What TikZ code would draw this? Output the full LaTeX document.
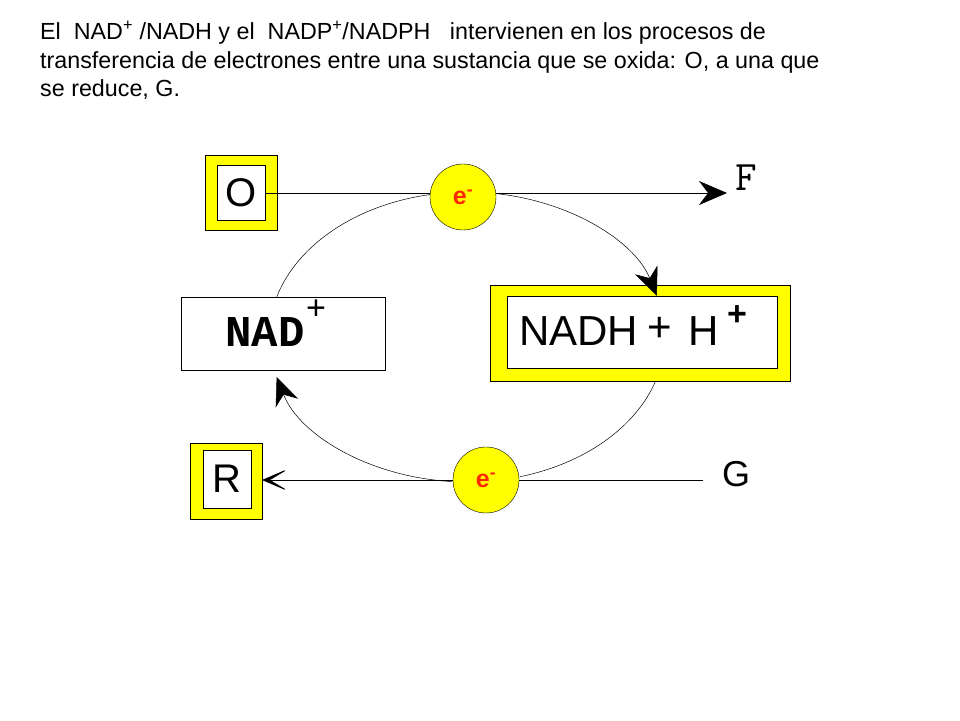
\documentclass[tikz,border=0pt]{standalone}
\usepackage{fontspec}
\setmainfont{Liberation Sans}
\newfontfamily\cour{Liberation Mono}
\usetikzlibrary{arrows.meta}
\definecolor{yel}{RGB}{255,255,0}
\definecolor{ered}{RGB}{255,40,0}
\begin{document}
\begin{tikzpicture}[x=1pt,y=1pt,
  ybox/.style={draw=black,fill=yel,line width=0.8pt},
  wbox/.style={draw=black,fill=white,line width=0.8pt},
  ecirc/.style={circle,draw=black,fill=yel,minimum size=66pt,inner sep=0pt,text=ered,font=\bfseries\fontsize{25}{25}\selectfont},
  tip/.style={-{Stealth[length=28pt,width=24pt,inset=9pt]}},
  arc/.style={line width=0.5pt}]
\useasboundingbox (0,0) rectangle (960,720);
% title
\node[anchor=north west,align=left,font=\fontsize{23.3}{28.5}\selectfont,inner sep=0pt] (title) at (40,699)
{El\ \ NAD\textsuperscript{+} /NADH y el\ \ NADP\textsuperscript{+}/NADPH\ \ \ intervienen en los procesos de\\
transferencia de electrones entre una sustancia que se oxida: O, a una que\\
se reduce, G.};
% O box
\filldraw[ybox] (205,490) rectangle (277,565);
\node[wbox,minimum width=48pt,minimum height=55pt,font=\fontsize{40}{40}\selectfont] (O) at (241,527.5) {O};
% R box
\filldraw[ybox] (190,201) rectangle (262,277);
\node[wbox,minimum width=48pt,minimum height=58pt,font=\fontsize{40}{40}\selectfont] (R) at (227,241) {R};
% NAD+ box
\node[wbox,minimum width=204pt,minimum height=73pt] (NAD) at (283,386.5) {};
\node[font=\cour\bfseries\fontsize{44}{44}\selectfont] (nadt) at (265,388) {NAD};
\node[font=\cour\fontsize{34}{34}\selectfont] (nadp) at (316,410) {+};
% NADH box
\filldraw[ybox] (490,339) rectangle (790,435);
\node[wbox,minimum width=270pt,minimum height=72pt] (NADH) at (642,388) {};
\node[anchor=west,font=\fontsize{42}{42}\selectfont,inner sep=0pt] (nadht) at (519,389) {NADH};
\node[font=\fontsize{42}{42}\selectfont,inner sep=0pt] (plus) at (660,391) {+};
\node[anchor=west,font=\fontsize{42}{42}\selectfont,inner sep=0pt] (H) at (688,389) {H};
\node[font=\bfseries\fontsize{34}{34}\selectfont] (hp) at (737,404) {+};
% lines
\coordinate (Fend) at (727,527);
\draw[line width=0.8pt,tip] (O.east |- 0,527) -- (Fend);
\node[font=\ttfamily\fontsize{42}{42}\selectfont] (F) at (746,542) {F};
\coordinate (Gst) at (703,240);
\draw[line width=0.8pt,-{Stealth[length=28pt,width=24pt,inset=20pt]}] (Gst) -- (262,240);
\node[font=\fontsize{36}{36}\selectfont] (G) at (736,246) {G};
% arcs, ellipse centre (467,383) rx 198 ry 145
\draw[arc] (467,383) ++(163.9:198 and 145) arc[start angle=163.9,end angle=100.8,x radius=198,y radius=145];
\draw[arc,tip] (467,383) ++(81.6:198 and 145) arc[start angle=81.6,end angle=16.5,x radius=198,y radius=145];
\draw[arc] (467,383) ++(-17.7:198 and 145) arc[start angle=-17.7,end angle=-74.5,x radius=198,y radius=145];
\draw[arc,tip] (467,383) ++(-94.3:198 and 145) arc[start angle=-94.3,end angle=-164,x radius=198,y radius=145];
% electrons
\node[ecirc] (e1) at (463,523) {e\textsuperscript{-}};
\node[ecirc] (e2) at (486,240) {e\textsuperscript{-}};
\end{tikzpicture}
\end{document}
